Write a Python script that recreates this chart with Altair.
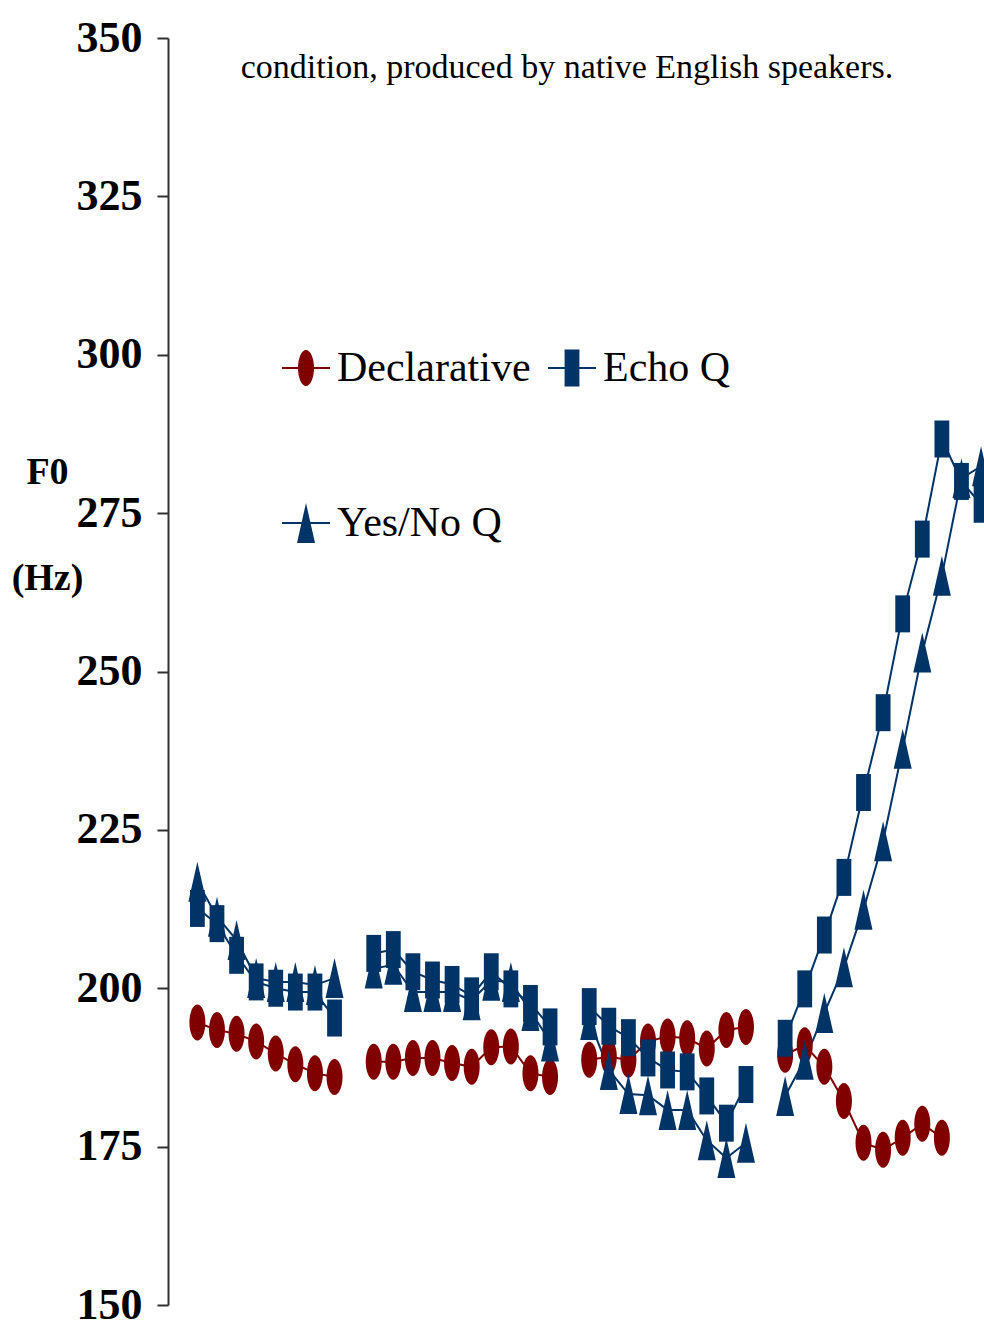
import altair as alt
import pandas as pd

# ---- data -----------------------------------------------------------------
SERIES = ["Declarative", "Echo Q", "Yes/No Q"]
COLORS = ["#800000", "#003366", "#003366"]

# time-normalised sample slots of the four words (empty slots split the words)
WORD_SLOTS = [
    list(range(1, 9)),
    list(range(10, 20)),
    list(range(21, 30)),
    list(range(31, 42)),
]

DECLARATIVE = [
    [194.6, 193.4, 192.8, 191.6, 189.7, 188.0, 186.6, 186.0],
    [188.4, 188.4, 189.0, 189.0, 188.2, 187.6, 190.7, 190.8, 186.6, 186.0],
    [188.7, 189.2, 188.7, 191.6, 192.4, 192.1, 190.5, 193.4, 193.9],
    [189.5, 191.0, 187.6, 182.2, 175.6, 174.5, 176.4, 178.6, 176.4],
]
ECHO_Q = [
    [212.6, 210.2, 205.2, 201.0, 200.0, 199.4, 199.4, 195.3],
    [205.5, 206.1, 202.6, 201.3, 200.6, 198.8, 202.6, 199.9, 197.6, 193.9],
    [197.1, 194.0, 192.2, 189.0, 187.1, 186.8, 183.0, 178.7, 184.8],
    [192.1, 199.9, 208.4, 217.5, 230.9, 243.5, 259.1, 270.9, 286.7, 280.0, 276.4],
]
YES_NO_Q = [
    [216.8, 211.3, 207.6, 201.6, 201.0, 201.0, 200.5, 201.6],
    [203.1, 203.7, 199.4, 199.4, 199.4, 198.1, 201.2, 201.0, 196.4, 191.6],
    [195.0, 187.1, 183.3, 183.1, 180.8, 180.8, 176.0, 173.2, 175.6],
    [183.0, 188.7, 196.1, 203.3, 212.4, 223.2, 237.8, 253.0, 265.1, 280.5, 282.4],
]

Y_TICKS = [150, 175, 200, 225, 250, 275, 300, 325, 350]
CAPTION = "condition, produced by native English speakers."
Y_TITLE = ["F0", "(Hz)"]

# ---- tidy table -----------------------------------------------------------
rows = []
for name, words in zip(SERIES, [DECLARATIVE, ECHO_Q, YES_NO_Q]):
    for w, (slots, vals) in enumerate(zip(WORD_SLOTS, words)):
        for slot, v in zip(slots, vals):
            rows.append({"series": name, "word": w, "slot": slot, "f0": v})
df = pd.DataFrame(rows)

# ---- layout ---------------------------------------------------------------
LEFT, TOP, RIGHT, BOTTOM = 168, 38, 0, 35
W, H = 984 - LEFT - RIGHT, 1340 - TOP - BOTTOM
SERIF = "Liberation Serif, Times New Roman, serif"

# tall, narrow marker outlines (unit box -1..1)
ELLIPSE = "M-0.4,0A0.4,0.9 0 1,0 0.4,0A0.4,0.9 0 1,0 -0.4,0Z"
SQUARE = "M-0.37,-0.925L0.37,-0.925L0.37,0.925L-0.37,0.925Z"
TRIANGLE = "M0,-1L0.45,1L-0.45,1Z"
SHAPES = [ELLIPSE, SQUARE, TRIANGLE]
MARK_SIZE = 1600

x_scale = alt.Scale(domain=[-0.5, 41.15], nice=False, zero=False)
y_scale = alt.Scale(domain=[150, 350], nice=False, zero=False)
color = alt.Color("series:N", scale=alt.Scale(domain=SERIES, range=COLORS), legend=None)
shape = alt.Shape("series:N", scale=alt.Scale(domain=SERIES, range=SHAPES), legend=None)

x_enc = alt.X("slot:Q", scale=x_scale, axis=None)
y_enc = alt.Y(
    "f0:Q",
    scale=y_scale,
    axis=alt.Axis(
        values=Y_TICKS,
        title=Y_TITLE,
        titleAngle=0,
        titleAlign="center",
        titleBaseline="top",
        titleX=47 - LEFT,
        titleY=453 - TOP,
        titleFont=SERIF,
        titleFontSize=38,
        titleFontWeight="bold",
        titleColor="#000000",
        titleLineHeight=106,
        labelFont=SERIF,
        labelFontSize=44,
        labelFontWeight="bold",
        labelColor="#000000",
        labelPadding=15,
        tickSize=11,
        tickWidth=2,
        tickColor="#303030",
        domainColor="#303030",
        domainWidth=2,
        grid=False,
    ),
)

lines = alt.Chart(df).mark_line(strokeWidth=2).encode(
    x=x_enc, y=y_enc, color=color, detail="word:N"
)
points = alt.Chart(df).mark_point(filled=True, opacity=1, size=MARK_SIZE).encode(
    x=x_enc, y=y_enc, color=color, shape=shape
)

# ---- legend (line + marker + label) ---------------------------------------
LEG_COL_X = [282 - LEFT, 548 - LEFT]
LEG_ROW_Y = [368 - TOP, 523 - TOP]
leg_cells = [(0, 0), (1, 0), (0, 1)]
leg = pd.DataFrame(
    {
        "series": SERIES,
        "x0": [LEG_COL_X[c] for c, r in leg_cells],
        "y0": [LEG_ROW_Y[r] for c, r in leg_cells],
    }
)
leg["x1"] = leg["x0"] + 48
leg["xm"] = leg["x0"] + 24
leg["xt"] = leg["x0"] + 55

leg_lines = alt.Chart(leg).mark_rule(strokeWidth=2).encode(
    x=alt.X("x0:Q", scale=None),
    x2="x1:Q",
    y=alt.Y("y0:Q", scale=None),
    color=color,
)
leg_marks = alt.Chart(leg).mark_point(filled=True, opacity=1, size=MARK_SIZE).encode(
    x=alt.X("xm:Q", scale=None),
    y=alt.Y("y0:Q", scale=None),
    color=color,
    shape=shape,
)
leg_text = alt.Chart(leg).mark_text(
    align="left", baseline="middle", font=SERIF, fontSize=42, color="#000000"
).encode(
    x=alt.X("xt:Q", scale=None),
    y=alt.Y("y0:Q", scale=None),
    text="series:N",
)

caption = alt.Chart(pd.DataFrame({"t": [CAPTION]})).mark_text(
    align="center", baseline="alphabetic", font=SERIF, fontSize=34, color="#000000"
).encode(
    x=alt.value(567 - LEFT),
    y=alt.value(78 - TOP),
    text="t:N",
)

chart = (
    alt.layer(lines, points, leg_lines, leg_marks, leg_text, caption)
    .properties(
        width=W,
        height=H,
        autosize=alt.AutoSizeParams(type="none"),
        padding={"left": LEFT, "top": TOP, "right": RIGHT, "bottom": BOTTOM},
        background="#ffffff",
    )
    .configure_view(stroke=None)
)

chart.save("out.html", embed_options={"renderer": "svg", "actions": False})
